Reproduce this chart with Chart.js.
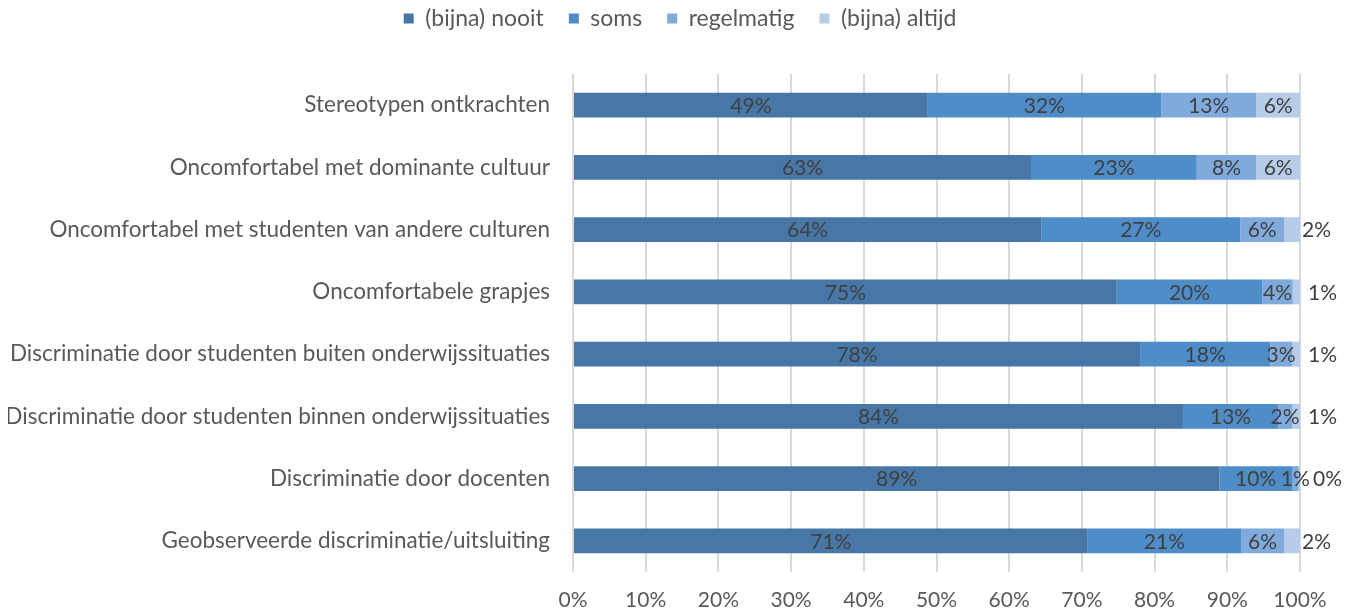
<!DOCTYPE html>
<html>
<head>
<meta charset="utf-8">
<script src="https://cdn.jsdelivr.net/npm/chart.js@4/dist/chart.umd.min.js"></script>
<style>
html,body{margin:0;padding:0;background:#fff;}
#wrap{width:1359px;height:614px;position:relative;}
</style>
</head>
<body>
<div id="wrap"><canvas id="c" width="1359" height="614"></canvas></div>
<script>
const categories = [
  "Stereotypen ontkrachten",
  "Oncomfortabel met dominante cultuur",
  "Oncomfortabel met studenten van andere culturen",
  "Oncomfortabele grapjes",
  "Discriminatie door studenten buiten onderwijssituaties",
  "Discriminatie door studenten binnen onderwijssituaties",
  "Discriminatie door docenten",
  "Geobserveerde discriminatie/uitsluiting"
];
const seriesNames = ["(bijna) nooit", "soms", "regelmatig", "(bijna) altijd"];
const nooit      = [48.8, 63.0, 64.4, 74.8, 78.0, 83.9, 88.9, 70.8];
const soms       = [32.1, 22.8, 27.4, 20.0, 17.9, 13.1, 10.0, 21.1];
const regelmatig = [13.1,  8.2,  6.0,  4.2,  3.0,  1.9,  0.9,  5.9];
const altijd     = [ 6.0,  6.0,  2.2,  1.0,  1.1,  1.1,  0.2,  2.2];
const xTicks = [0,10,20,30,40,50,60,70,80,90,100];

const colors = ["#4677A7", "#4F8DC8", "#7FAADB", "#B7CCE8"];
const FONT = "Lato, 'Open Sans', sans-serif";

const labelPlugin = {
  id: 'barLabels',
  afterDatasetsDraw(chart) {
    const ctx = chart.ctx;
    ctx.save();
    ctx.font = "21px " + FONT;
    ctx.fillStyle = "#404040";
    ctx.textBaseline = "middle";
    chart.data.datasets.forEach((ds, di) => {
      const meta = chart.getDatasetMeta(di);
      meta.data.forEach((el, i) => {
        const v = ds.data[i];
        const r = Math.round(v);
        const txt = r + "%";
        if (di === 3 && v < 3) {
          ctx.textAlign = "left";
          const off = r >= 2 ? 2 : (r === 1 ? 8 : 13);
          ctx.fillText(txt, Math.max(el.x, el.base) + off, el.y + 1);
        } else {
          ctx.textAlign = "center";
          ctx.fillText(txt, (el.x + el.base) / 2, el.y + 1);
        }
      });
    });
    ctx.restore();
  }
};

const LEGEND_SHIFT_Y = 20;
const LEGEND_SHIFT_X = 26;
const legendPatchPlugin = {
  id: 'legendPatch',
  beforeUpdate(chart) {
    const lg = chart.legend;
    if (lg && !lg._patched) {
      const origFit = lg.fit.bind(lg);
      lg.fit = function () { origFit(); this.height = 72; };
      const origDraw = lg.draw.bind(lg);
      lg.draw = function () {
        const t = this.top, b = this.bottom, l = this.left, r = this.right;
        this.top = t - LEGEND_SHIFT_Y; this.bottom = b - LEGEND_SHIFT_Y;
        this.left = l + LEGEND_SHIFT_X; this.right = r + LEGEND_SHIFT_X;
        origDraw();
        this.top = t; this.bottom = b; this.left = l; this.right = r;
      };
      lg._patched = true;
    }
  }
};

new Chart(document.getElementById('c'), {
  type: 'bar',
  data: {
    labels: categories,
    datasets: [nooit, soms, regelmatig, altijd].map((d, k) => ({
      label: seriesNames[k],
      data: d,
      backgroundColor: colors[k],
      borderWidth: 0,
      barPercentage: 0.5,
      categoryPercentage: 0.8
    }))
  },
  options: {
    indexAxis: 'y',
    responsive: false,
    animation: false,
    layout: { padding: { top: 2, right: 59, bottom: 0, left: 8 } },
    plugins: {
      legend: {
        position: 'top',
        labels: {
          boxWidth: 10, boxHeight: 10,
          color: "#595959",
          font: { family: FONT, size: 23 },
          padding: 25
        }
      },
      tooltip: { enabled: false }
    },
    scales: {
      x: {
        stacked: true,
        min: 0, max: 100,
        afterBuildTicks(scale) { scale.ticks = xTicks.map(v => ({ value: v })); },
        afterFit(scale) { scale.height = 42; },
        grid: { color: "#D9D9D9", lineWidth: 2, drawTicks: false },
        border: { display: false },
        ticks: {
          color: "#595959",
          font: { family: FONT, size: 21 },
          padding: 16,
          callback: v => v + "%"
        }
      },
      y: {
        stacked: true,
        afterFit(scale) { scale.width = 565; },
        grid: { display: false, drawTicks: false },
        border: { display: false },
        ticks: {
          color: "#595959",
          font: { family: FONT, size: 22.5 },
          padding: 23
        }
      }
    }
  },
  plugins: [labelPlugin, legendPatchPlugin]
});
</script>
</body>
</html>
